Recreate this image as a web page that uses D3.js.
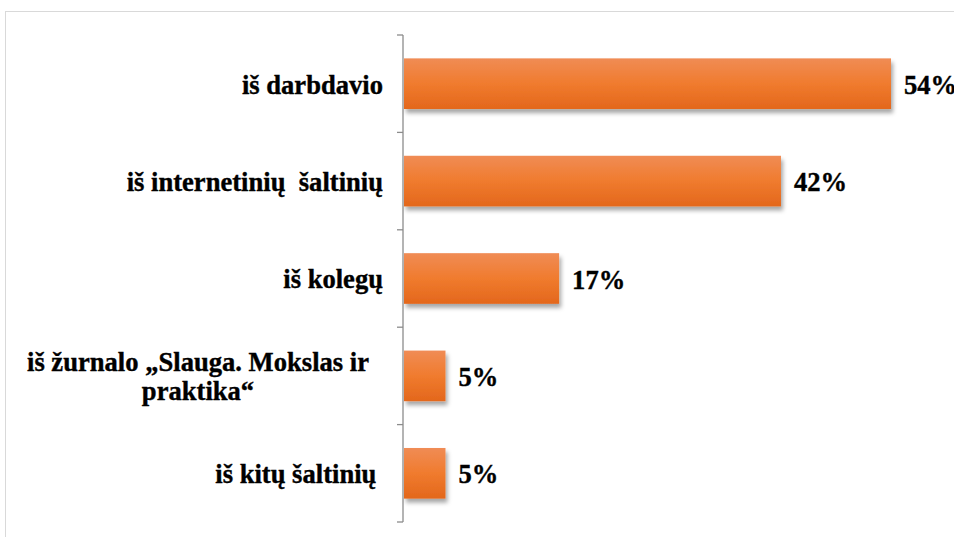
<!DOCTYPE html>
<html><head><meta charset="utf-8">
<script src="https://cdn.jsdelivr.net/npm/d3@7"></script>
</head><body style="margin:0">
<script>
const categories = ["iš darbdavio", "iš internetinių \u00A0šaltinių", "iš kolegų", "iš žurnalo „Slauga. Mokslas ir praktika“", "iš kitų šaltinių\u00A0"];
const labelLines = [["iš darbdavio"], ["iš internetinių \u00A0šaltinių"], ["iš kolegų"], ["iš žurnalo „Slauga. Mokslas ir", "praktika“"], ["iš kitų šaltinių\u00A0"]];
const values = [54, 41.8, 17.2, 4.6, 4.6];
const valueLabels = ["54%", "42%", "17%", "5%", "5%"];

const W = 954, H = 537;
const svg = d3.select("body").append("svg").attr("width", W).attr("height", H).style("display", "block");
const defs = svg.append("defs");
const grad = defs.append("linearGradient").attr("id", "g").attr("x1", 0).attr("y1", 0).attr("x2", 0).attr("y2", 1);
grad.append("stop").attr("offset", "0%").attr("stop-color", "#f08c55");
grad.append("stop").attr("offset", "50%").attr("stop-color", "#f07b2e");
grad.append("stop").attr("offset", "100%").attr("stop-color", "#e3671c");
const f = defs.append("filter").attr("id", "sh").attr("x", "-10%").attr("y", "-20%").attr("width", "130%").attr("height", "160%");
f.append("feDropShadow").attr("dx", 2).attr("dy", 4).attr("stdDeviation", 2.2).attr("flood-color", "#000").attr("flood-opacity", 0.35);

svg.append("rect").attr("x", 5.5).attr("y", 11.5).attr("width", W).attr("height", H).attr("fill", "none").attr("stroke", "#d9d9d9");

const x = d3.scaleLinear().domain([0, 54]).range([404, 891]);
const y = d3.scaleBand().domain(categories).range([35, 522]).paddingInner(0.48).paddingOuter(0.24);

svg.append("g").selectAll("rect").data(values).join("rect")
  .attr("x", x(0)).attr("y", (d, i) => y(categories[i]))
  .attr("width", d => x(d) - x(0)).attr("height", y.bandwidth())
  .attr("fill", "url(#g)").attr("filter", "url(#sh)");

// axis
const step = (522 - 35) / categories.length;
const ax = svg.append("g").attr("stroke", "#8c8c8c").attr("stroke-width", 1.3);
ax.append("line").attr("x1", 403).attr("x2", 403).attr("y1", 35).attr("y2", 522);
d3.range(categories.length + 1).forEach(i => {
  ax.append("line").attr("x1", 397).attr("x2", 403).attr("y1", 35 + i * step).attr("y2", 35 + i * step);
});

const FS = "28px", SX = 0.95;
// category labels
categories.forEach((c, i) => {
  const cy = y(c) + y.bandwidth() / 2;
  const lines = labelLines[i];
  const lh = 29;
  const multi = lines.length > 1;
  const tx = multi ? 198 : 383;
  const t = svg.append("text")
    .style("font-family", '"Liberation Serif"').style("font-weight", "bold").style("font-size", FS)
    .attr("stroke", "#000").attr("stroke-width", 0.4)
    .attr("text-anchor", multi ? "middle" : "end")
    .attr("transform", `translate(${tx},0) scale(${SX},1) translate(${-tx},0)`);
  lines.forEach((l, k) => {
    t.append("tspan").attr("x", tx).attr("y", cy + 10 - (lines.length - 1) * lh / 2 + k * lh).text(l);
  });
});

svg.selectAll("text.v").data(values).join("text").attr("class", "v")
  .style("font-family", '"Liberation Serif"').style("font-weight", "bold").style("font-size", FS)
  .attr("stroke", "#000").attr("stroke-width", 0.4)
  .attr("transform", (d, i) => `translate(${x(d) + 13},${y(categories[i]) + y.bandwidth() / 2 + 10}) scale(${SX},1)`)
  .text((d, i) => valueLabels[i]);
</script>
</body></html>
